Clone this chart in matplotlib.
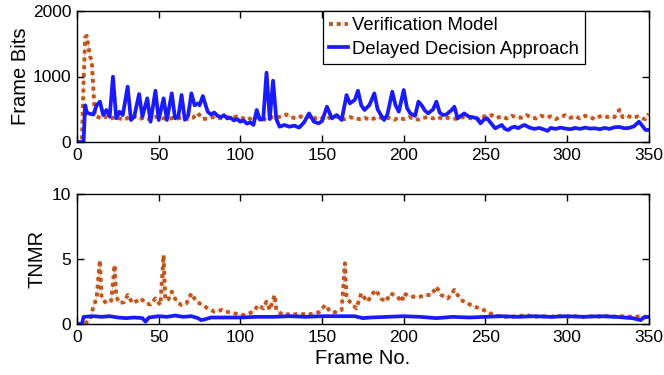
import matplotlib
matplotlib.use("Agg")
import matplotlib.pyplot as plt

plt.rcParams['font.family'] = ['Liberation Sans', 'DejaVu Sans']

# ---- Frame Bits (top panel) ----
ddA_bits_x = [0, 4, 5, 6, 8, 10, 12, 14, 16, 18, 20, 22, 24, 26, 28, 31, 33, 35, 38, 40,
              43, 45, 48, 50, 53, 55, 58, 60, 62, 64, 66, 68, 70, 72, 74, 75, 77, 78, 80, 82,
              84, 86, 88, 90, 92, 94, 96, 98, 100, 102, 104, 106, 108, 110, 112, 114, 116,
              118, 120, 122, 124, 127, 130, 133, 136, 139, 142, 145, 148, 150, 153, 156, 159,
              162, 165, 167, 170, 172, 174, 176, 179, 182, 184, 186, 188, 190, 193, 195, 197,
              200, 202, 204, 207, 209, 211, 213, 215, 218, 220, 222, 224, 226, 229, 231, 233,
              235, 237, 240, 242, 245, 247, 249, 251, 253, 256, 258, 260, 262, 264, 266, 268,
              270, 272, 274, 277, 280, 283, 286, 288, 290, 293, 296, 299, 302, 305, 308, 311,
              314, 317, 320, 323, 326, 329, 332, 335, 338, 341, 344, 346, 348, 350]
ddA_bits = [0, 0, 560, 450, 430, 420, 560, 616, 412, 489, 387, 997, 361, 463, 412, 845, 336,
            387, 733, 387, 667, 310, 783, 336, 667, 336, 743, 361, 387, 717, 340, 400, 743,
            560, 590, 560, 702, 620, 463, 420, 450, 400, 380, 410, 360, 370, 330, 350, 310,
            330, 280, 300, 260, 489, 340, 350, 1058, 350, 936, 350, 234, 260, 234, 250, 220,
            300, 437, 310, 285, 320, 539, 361, 412, 336, 717, 590, 641, 783, 560, 489, 565,
            743, 500, 412, 336, 420, 768, 560, 463, 794, 520, 437, 400, 616, 560, 480, 437,
            500, 616, 450, 412, 420, 480, 539, 361, 400, 437, 387, 380, 361, 285, 340, 361,
            300, 209, 234, 260, 200, 183, 220, 234, 210, 240, 260, 220, 200, 215, 190, 170,
            215, 200, 220, 205, 195, 215, 200, 220, 205, 210, 195, 215, 200, 225, 230, 210,
            215, 240, 310, 250, 185, 183]

ver_bits_x = [0, 3, 4, 5, 6, 7, 8, 9, 10, 11, 13, 15, 17, 20, 23, 26, 29, 32, 35, 38, 41,
              44, 47, 50, 53, 56, 59, 62, 65, 68, 71, 74, 77, 80, 83, 86, 89, 92, 95, 98, 101,
              104, 107, 110, 113, 116, 119, 122, 125, 128, 131, 134, 137, 140, 143, 146, 149,
              152, 155, 158, 161, 164, 167, 170, 173, 176, 179, 182, 185, 188, 191, 194, 197,
              200, 203, 206, 209, 212, 215, 218, 221, 224, 227, 230, 233, 236, 239, 242, 245,
              248, 251, 254, 257, 260, 263, 266, 269, 272, 275, 278, 281, 284, 287, 290, 293,
              296, 299, 302, 305, 308, 311, 314, 317, 320, 323, 326, 329, 332, 334, 337, 340,
              343, 346, 348, 350]
ver_bits = [0, 0, 900, 1600, 1620, 1450, 1300, 1250, 800, 400, 380, 360, 390, 350, 380, 360,
            340, 380, 390, 350, 370, 350, 380, 390, 360, 350, 370, 360, 380, 350, 370, 440,
            350, 360, 380, 370, 360, 380, 370, 390, 360, 380, 340, 380, 350, 340, 380, 370,
            390, 420, 380, 360, 390, 370, 400, 360, 380, 340, 380, 400, 360, 350, 380, 360,
            350, 370, 340, 360, 380, 350, 370, 340, 370, 350, 380, 360, 340, 370, 380, 360,
            380, 350, 370, 360, 350, 380, 370, 360, 340, 400, 380, 410, 370, 390, 360, 400,
            380, 370, 410, 380, 360, 400, 380, 390, 350, 380, 410, 370, 390, 360, 400, 380,
            350, 390, 400, 370, 380, 490, 380, 400, 370, 390, 360, 350, 430]

# ---- TNMR (bottom panel) ----
ver_tnmr_x = [0, 4, 5, 8, 10, 12, 14, 15, 18, 21, 23, 24, 26, 29, 31, 34, 37, 39, 42, 45,
              48, 51, 53, 54, 56, 58, 61, 64, 67, 70, 73, 77, 80, 84, 89, 93, 96, 99, 102,
              105, 108, 111, 114, 116, 118, 121, 122, 126, 129, 132, 135, 138, 141, 144, 148,
              152, 155, 158, 162, 164, 165, 168, 171, 174, 176, 178, 180, 183, 186, 189, 192,
              196, 199, 200, 204, 207, 210, 213, 217, 220, 223, 227, 231, 235, 239, 243, 247,
              251, 255, 260, 265, 270, 275, 280, 285, 290, 295, 300, 305, 310, 315, 320, 325,
              330, 335, 340, 345, 350]
ver_tnmr = [0, 0, 0.05, 0.3, 1.33, 2.0, 4.92, 1.97, 1.6, 1.8, 4.54, 2.1, 1.6, 1.7, 2.23, 1.6,
            1.8, 1.97, 1.6, 1.5, 1.97, 1.46, 5.3, 1.85, 1.9, 2.49, 1.7, 1.46, 1.6, 2.36, 1.72,
            1.46, 1.2, 0.95, 1.08, 0.9, 0.82, 0.75, 0.69, 0.8, 0.95, 1.46, 1.2, 1.72, 1.08,
            2.23, 1.08, 0.69, 0.75, 0.69, 0.8, 0.75, 0.8, 0.75, 0.9, 1.46, 0.95, 0.9, 1.08,
            4.67, 1.97, 1.59, 1.2, 2.36, 2.0, 1.72, 2.2, 2.62, 1.97, 1.72, 2.36, 2.1, 1.72,
            2.36, 2.1, 2.1, 2.1, 2.23, 2.23, 2.87, 2.23, 1.97, 2.62, 1.85, 1.6, 1.33, 1.2,
            0.95, 0.69, 0.56, 0.55, 0.6, 0.69, 0.55, 0.6, 0.55, 0.62, 0.55, 0.6, 0.55, 0.6,
            0.55, 0.62, 0.56, 0.6, 0.55, 0.58, 0.55]

ddA_tnmr_x = [0, 3, 4, 10, 15, 20, 25, 30, 35, 40, 42, 44, 50, 55, 60, 65, 70, 74, 76, 78,
              82, 90, 100, 110, 120, 130, 140, 150, 160, 170, 175, 180, 190, 200, 210, 220,
              230, 240, 250, 260, 270, 280, 290, 300, 310, 320, 330, 340, 345, 347, 350]
ddA_tnmr = [0, 0, 0.55, 0.6, 0.55, 0.6, 0.5, 0.45, 0.5, 0.45, 0.18, 0.5, 0.6, 0.55, 0.65,
            0.55, 0.6, 0.45, 0.3, 0.35, 0.5, 0.5, 0.5, 0.55, 0.55, 0.6, 0.55, 0.6, 0.6, 0.6,
            0.45, 0.5, 0.55, 0.6, 0.55, 0.45, 0.55, 0.5, 0.55, 0.6, 0.55, 0.6, 0.55, 0.6,
            0.55, 0.6, 0.55, 0.45, 0.3, 0.5, 0.55]

x_ticks = [0, 50, 100, 150, 200, 250, 300, 350]

red = '#c0561c'
blue = '#1a1aff'
red_style = dict(color=red, linestyle=(0, (1.0, 1.0)), linewidth=2.8)
blue_style = dict(color=blue, linewidth=2.7)

fig = plt.figure(figsize=(6.64, 3.75), dpi=100)
ax1 = fig.add_axes([0.116, 0.6213, 0.861, 0.3494])
ax2 = fig.add_axes([0.116, 0.136, 0.861, 0.3467])

# thin faint connector under the dotted red curves
ax1.plot(ver_bits_x, ver_bits, color=red, linewidth=0.7, alpha=0.35)
ax1.plot(ver_bits_x, ver_bits, label='Verification Model', **red_style)
ax1.plot(ddA_bits_x, ddA_bits, label='Delayed Decision Approach', **blue_style)

ax2.plot(ver_tnmr_x, ver_tnmr, color=red, linewidth=0.7, alpha=0.35)
ax2.plot(ver_tnmr_x, ver_tnmr, **red_style)
ax2.plot(ddA_tnmr_x, ddA_tnmr, **blue_style)

ax1.set_ylim(0, 2000)
ax1.set_yticks([0, 1000, 2000])
ax2.set_ylim(0, 10)
ax2.set_yticks([0, 5, 10])

for ax in (ax1, ax2):
    ax.set_xlim(0, 350)
    ax.set_xticks(x_ticks)
    ax.tick_params(direction='in', top=True, right=True, length=5, width=1,
                   labelsize=12.5, pad=4)
    for s in ax.spines.values():
        s.set_linewidth(1.0)

ax1.set_ylabel('Frame Bits', fontsize=14.5, labelpad=2)
ax2.set_ylabel('TNMR', fontsize=14.5, labelpad=4)
ax2.set_xlabel('Frame No.', fontsize=14.5, labelpad=3)

ax1.legend(loc='upper left', bbox_to_anchor=(323 / 664, 1 - 11 / 375),
           bbox_transform=fig.transFigure, borderaxespad=0, fontsize=13.3,
           frameon=True, fancybox=False, edgecolor='black', framealpha=1,
           handlelength=1.0, handletextpad=0.2, borderpad=0.35, labelspacing=0.35)
ax1.get_legend().get_frame().set_linewidth(0.9)

fig.savefig('out.png', dpi=100)
